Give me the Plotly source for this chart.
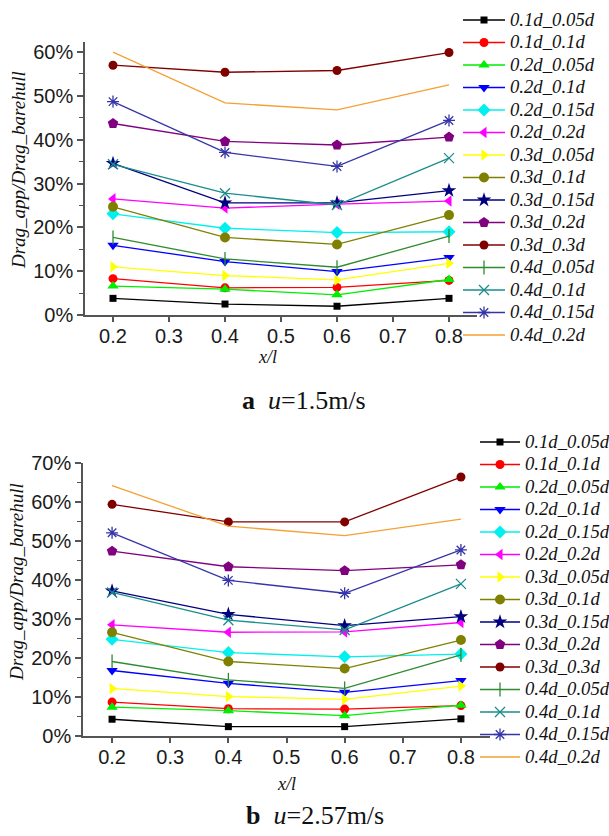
import plotly.graph_objects as go

x_pos = [0.2, 0.4, 0.6, 0.8]

names = ["0.1d_0.05d", "0.1d_0.1d", "0.2d_0.05d", "0.2d_0.1d", "0.2d_0.15d",
         "0.2d_0.2d", "0.3d_0.05d", "0.3d_0.1d", "0.3d_0.15d", "0.3d_0.2d",
         "0.3d_0.3d", "0.4d_0.05d", "0.4d_0.1d", "0.4d_0.15d", "0.4d_0.2d"]

# panel a: u = 1.5 m/s  (values in %)
a_01_005 = [3.8, 2.5, 2.0, 3.8]
a_01_01 = [8.3, 6.2, 6.3, 7.9]
a_02_005 = [6.6, 5.9, 4.6, 8.1]
a_02_01 = [15.9, 12.2, 9.9, 13.1]
a_02_015 = [23.1, 19.8, 18.8, 19.0]
a_02_02 = [26.5, 24.4, 25.3, 26.0]
a_03_005 = [11.0, 9.0, 8.0, 11.8]
a_03_01 = [24.7, 17.7, 16.1, 22.8]
a_03_015 = [34.6, 25.6, 25.6, 28.4]
a_03_02 = [43.7, 39.6, 38.8, 40.6]
a_03_03 = [57.0, 55.4, 55.8, 59.9]
a_04_005 = [17.7, 12.8, 10.9, 18.0]
a_04_01 = [34.4, 27.8, 25.1, 35.8]
a_04_015 = [48.7, 37.1, 33.9, 44.4]
a_04_02 = [60.0, 48.4, 46.8, 52.5]

# panel b: u = 2.57 m/s  (values in %)
b_01_005 = [4.3, 2.4, 2.4, 4.4]
b_01_01 = [8.7, 7.0, 6.9, 7.8]
b_02_005 = [7.4, 6.5, 5.2, 7.9]
b_02_01 = [16.8, 13.5, 11.2, 14.2]
b_02_015 = [24.8, 21.4, 20.3, 21.0]
b_02_02 = [28.5, 26.6, 26.7, 29.1]
b_03_005 = [12.2, 10.1, 9.4, 12.8]
b_03_01 = [26.6, 19.1, 17.3, 24.6]
b_03_015 = [37.2, 31.2, 28.3, 30.6]
b_03_02 = [47.4, 43.4, 42.4, 43.9]
b_03_03 = [59.4, 54.9, 54.9, 66.4]
b_04_005 = [19.1, 14.4, 12.2, 20.8]
b_04_01 = [36.8, 29.7, 27.2, 39.0]
b_04_015 = [52.1, 39.9, 36.6, 47.7]
b_04_02 = [64.2, 53.8, 51.4, 55.6]

series_a = [a_01_005, a_01_01, a_02_005, a_02_01, a_02_015, a_02_02, a_03_005,
            a_03_01, a_03_015, a_03_02, a_03_03, a_04_005, a_04_01, a_04_015, a_04_02]
series_b = [b_01_005, b_01_01, b_02_005, b_02_01, b_02_015, b_02_02, b_03_005,
            b_03_01, b_03_015, b_03_02, b_03_03, b_04_005, b_04_01, b_04_015, b_04_02]

colors = ["#000000", "#ff0000", "#00ee00", "#0000ff", "#00f0f0", "#ff00ff",
          "#ffff00", "#808000", "#000080", "#800080", "#800000", "#2e8b2e",
          "#1a8c8c", "#3535a8", "#f5a033"]
symbols = ["square", "circle", "triangle-up", "triangle-down", "diamond",
           "triangle-left", "triangle-right", "circle", "star", "pentagon",
           "circle", "line-ns-open", "x-thin-open", "asterisk-open", None]
sizes = [7, 9, 10, 10, 10, 10, 10, 10, 11, 11, 9, 10, 10, 10, 0]

fig = go.Figure()

for panel, data, xa, ya, lg in [("a", series_a, "x", "y", "legend"),
                                ("b", series_b, "x2", "y2", "legend2")]:
    for i, nm in enumerate(names):
        has_marker = symbols[i] is not None
        marker = dict(color=colors[i], size=sizes[i], symbol=symbols[i] or "circle")
        if symbols[i] and symbols[i].endswith("-open"):
            marker["line"] = dict(color=colors[i], width=1.3)
        fig.add_trace(go.Scatter(
            x=x_pos, y=data[i],
            mode="lines+markers" if has_marker else "lines",
            name="<span style='font-size:18.7px'>" + nm + "</span>",
            line=dict(color=colors[i], width=1.3),
            marker=marker,
            xaxis=xa, yaxis=ya, legend=lg,
        ))

W, H = 609, 836

def px_x(p):
    return p / W

def px_y(p):
    return 1 - p / H

axis_common = dict(showline=True, linecolor="#555555", linewidth=1.5,
                   ticks="outside", tickcolor="#555555", tickwidth=1.5,
                   showgrid=False, zeroline=False,
                   tickfont=dict(family="Liberation Sans, Arial", size=20, color="#1a1a1a"))

fig.update_layout(
    width=W, height=H,
    margin=dict(l=0, r=0, t=0, b=0, autoexpand=False),
    paper_bgcolor="white", plot_bgcolor="white",
    xaxis=dict(domain=[px_x(85), px_x(477)], range=[0.15, 0.85], dtick=0.1,
               tick0=0.2, ticklen=5, ticklabelstandoff=-3, anchor="y", **axis_common),
    yaxis=dict(domain=[px_y(315), px_y(42)], range=[0, 62.3], dtick=10,
               ticksuffix="%", ticklen=6, anchor="x",
               minor=dict(ticks="outside", dtick=5, ticklen=4, tickcolor="#555555", tickwidth=1.2),
               **axis_common),
    xaxis2=dict(domain=[px_x(83), px_x(490)], range=[0.15, 0.85], dtick=0.1,
                tick0=0.2, ticklen=5, ticklabelstandoff=-3, anchor="y2", **axis_common),
    yaxis2=dict(domain=[px_y(736), px_y(463)], range=[0, 70], dtick=10,
                ticksuffix="%", ticklen=6, anchor="x2",
                minor=dict(ticks="outside", dtick=5, ticklen=4, tickcolor="#555555", tickwidth=1.2),
                **axis_common),
    legend=dict(x=px_x(458), y=px_y(3.75), xanchor="left", yanchor="top",
                font=dict(family="Liberation Serif", size=15, style="italic", color="#111111"),
                itemwidth=42, bgcolor="rgba(0,0,0,0)", borderwidth=0),
    legend2=dict(x=px_x(475), y=px_y(425.75), xanchor="left", yanchor="top",
                 font=dict(family="Liberation Serif", size=15, style="italic", color="#111111"),
                 itemwidth=40, bgcolor="rgba(0,0,0,0)", borderwidth=0),
    showlegend=True,
)

title_font = dict(family="Liberation Serif", size=19, color="#111111", style="italic")
cap_font = dict(family="Liberation Serif", size=26, color="#111111")

def add_text(xp, yp, text, font, angle=0):
    fig.add_annotation(x=px_x(xp), y=px_y(yp), xref="paper", yref="paper",
                       xanchor="center", yanchor="middle",
                       text=text, textangle=angle, showarrow=False, font=font)

add_text(18, 170, "Drag_app/Drag_barehull", title_font, -90)
add_text(16, 582, "Drag_app/Drag_barehull", title_font, -90)
xl_font = dict(family="Liberation Serif", size=18, color="#111111", style="italic")
add_text(267, 357, "x/l", xl_font)
add_text(286, 784, "x/l", xl_font)
add_text(304, 400, "<b>a</b>  <i>u</i>=1.5m/s", cap_font)
add_text(315, 815, "<b>b</b>  <i>u</i>=2.57m/s", cap_font)

fig.write_html("out.html")
